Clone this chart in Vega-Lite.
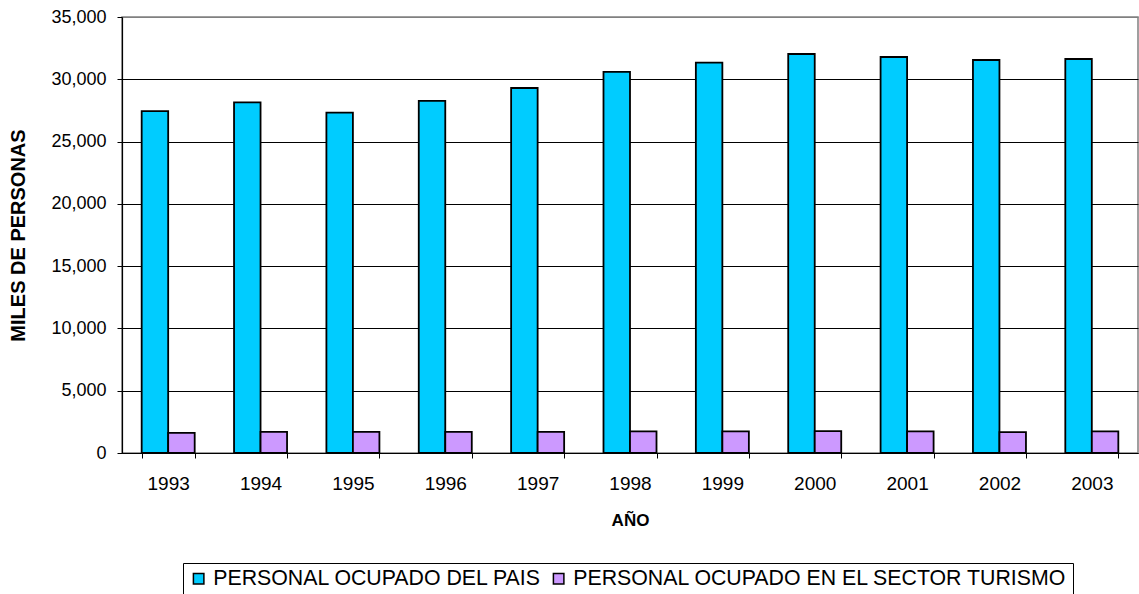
{
  "$schema": "https://vega.github.io/schema/vega-lite/v6.json",
  "autosize": {"type": "none"},
  "padding": {"left": 122, "top": 17, "right": 1, "bottom": 141},
  "width": 1016,
  "height": 436,
  "background": "white",
  "config": {
    "font": "Liberation Sans",
    "view": {"stroke": "#808080", "strokeWidth": 1.5}
  },
  "data": {
    "values": [
      {"anio": "1993", "serie": "PERSONAL OCUPADO DEL PAIS", "valor": 27450},
      {"anio": "1994", "serie": "PERSONAL OCUPADO DEL PAIS", "valor": 28150},
      {"anio": "1995", "serie": "PERSONAL OCUPADO DEL PAIS", "valor": 27320},
      {"anio": "1996", "serie": "PERSONAL OCUPADO DEL PAIS", "valor": 28260},
      {"anio": "1997", "serie": "PERSONAL OCUPADO DEL PAIS", "valor": 29300},
      {"anio": "1998", "serie": "PERSONAL OCUPADO DEL PAIS", "valor": 30590},
      {"anio": "1999", "serie": "PERSONAL OCUPADO DEL PAIS", "valor": 31330},
      {"anio": "2000", "serie": "PERSONAL OCUPADO DEL PAIS", "valor": 32030},
      {"anio": "2001", "serie": "PERSONAL OCUPADO DEL PAIS", "valor": 31790},
      {"anio": "2002", "serie": "PERSONAL OCUPADO DEL PAIS", "valor": 31550},
      {"anio": "2003", "serie": "PERSONAL OCUPADO DEL PAIS", "valor": 31630},
      {"anio": "1993", "serie": "PERSONAL OCUPADO EN EL SECTOR TURISMO", "valor": 1610},
      {"anio": "1994", "serie": "PERSONAL OCUPADO EN EL SECTOR TURISMO", "valor": 1690},
      {"anio": "1995", "serie": "PERSONAL OCUPADO EN EL SECTOR TURISMO", "valor": 1690},
      {"anio": "1996", "serie": "PERSONAL OCUPADO EN EL SECTOR TURISMO", "valor": 1700},
      {"anio": "1997", "serie": "PERSONAL OCUPADO EN EL SECTOR TURISMO", "valor": 1700},
      {"anio": "1998", "serie": "PERSONAL OCUPADO EN EL SECTOR TURISMO", "valor": 1740},
      {"anio": "1999", "serie": "PERSONAL OCUPADO EN EL SECTOR TURISMO", "valor": 1740},
      {"anio": "2000", "serie": "PERSONAL OCUPADO EN EL SECTOR TURISMO", "valor": 1750},
      {"anio": "2001", "serie": "PERSONAL OCUPADO EN EL SECTOR TURISMO", "valor": 1740},
      {"anio": "2002", "serie": "PERSONAL OCUPADO EN EL SECTOR TURISMO", "valor": 1670},
      {"anio": "2003", "serie": "PERSONAL OCUPADO EN EL SECTOR TURISMO", "valor": 1730}
    ]
  },
  "mark": {"type": "bar", "stroke": "black", "strokeWidth": 1.8},
  "encoding": {
    "x": {
      "field": "anio",
      "type": "nominal",
      "scale": {"paddingInner": 0.426, "paddingOuter": 0.213},
      "axis": {
        "title": "AÑO",
        "titleFontSize": 17,
        "titleFontWeight": "bold",
        "titleColor": "black",
        "titlePadding": 19,
        "labelAngle": 0,
        "labelFontSize": 19,
        "labelColor": "black",
        "labelPadding": 16,
        "tickSize": 5,
        "tickColor": "black",
        "tickBand": "extent",
        "domainColor": "black",
        "domainWidth": 1.2
      }
    },
    "xOffset": {
      "field": "serie",
      "type": "nominal",
      "sort": ["PERSONAL OCUPADO DEL PAIS", "PERSONAL OCUPADO EN EL SECTOR TURISMO"],
      "scale": {"paddingInner": 0, "paddingOuter": 0}
    },
    "y": {
      "field": "valor",
      "type": "quantitative",
      "scale": {"domain": [0, 35000], "nice": false},
      "axis": {
        "title": "MILES DE PERSONAS",
        "titleFontSize": 20,
        "titleFontWeight": "bold",
        "titleColor": "black",
        "titlePadding": 22,
        "values": [0, 5000, 10000, 15000, 20000, 25000, 30000, 35000],
        "format": ",d",
        "labelFontSize": 18,
        "labelColor": "black",
        "labelPadding": 11,
        "tickSize": 5,
        "tickColor": "black",
        "domainColor": "black",
        "domainWidth": 1.2,
        "grid": true,
        "gridColor": {"condition": {"test": "datum.value === 35000", "value": "#808080"}, "value": "black"},
        "gridWidth": 1.2
      }
    },
    "color": {
      "field": "serie",
      "type": "nominal",
      "scale": {
        "domain": ["PERSONAL OCUPADO DEL PAIS", "PERSONAL OCUPADO EN EL SECTOR TURISMO"],
        "range": ["#00CCFF", "#CC99FF"]
      },
      "legend": {
        "title": null,
        "orient": "none",
        "legendX": 61,
        "legendY": 546,
        "direction": "horizontal",
        "columns": 2,
        "strokeColor": "black",
        "padding": 5,
        "symbolType": "square",
        "symbolSize": 110,
        "symbolStrokeColor": "black",
        "symbolStrokeWidth": 1.5,
        "labelFontSize": 21.3,
        "labelLimit": 0,
        "labelColor": "black",
        "labelOffset": 4,
        "columnPadding": 6
      }
    }
  }
}
